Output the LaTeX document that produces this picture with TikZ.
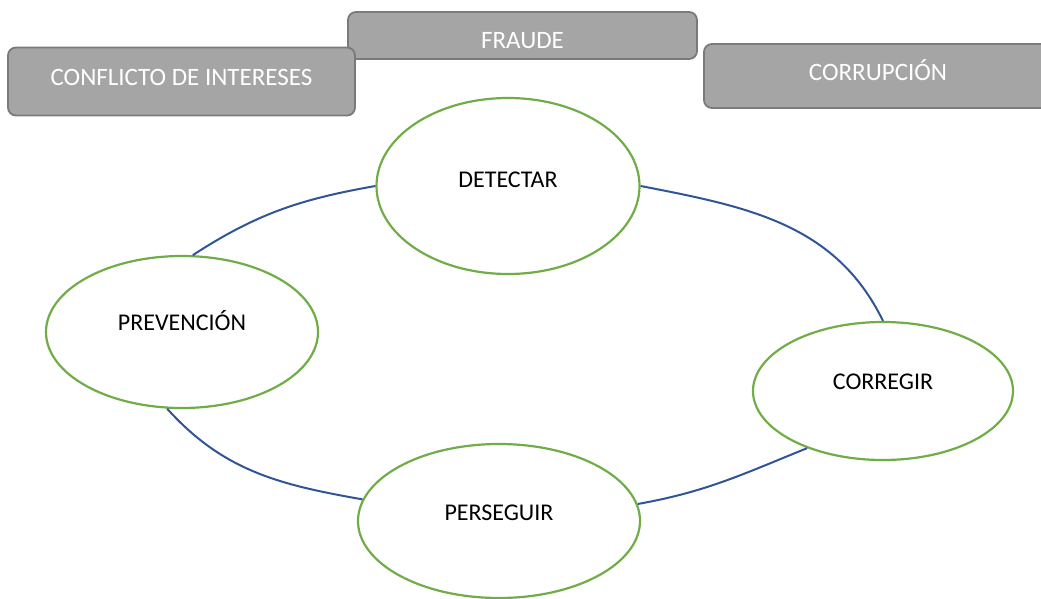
\documentclass[tikz,border=0pt]{standalone}
\usepackage{fontspec}
\setmainfont{Carlito}
\usetikzlibrary{shapes.geometric}

\definecolor{boxgray}{RGB}{165,165,165}
\definecolor{edgegray}{RGB}{122,122,122}
\definecolor{ringblue}{RGB}{47,85,151}
\definecolor{stagegreen}{RGB}{112,173,71}

\begin{document}
\begin{tikzpicture}[
    x=1pt, y=-1pt,
    topic/.style={draw=edgegray, fill=boxgray, line width=1.8pt, rounded corners=8pt, text=white,
        font=\fontsize{25}{30}\selectfont, text height=16pt, text depth=6pt, inner sep=0pt},
    stage/.style={ellipse, draw=stagegreen, fill=white, line width=2.2pt, inner sep=0pt,
        font=\fontsize{24}{29}\selectfont, text height=15.5pt, text depth=16pt},
    ring/.style={draw=ringblue, line width=2pt}
]

\useasboundingbox (0,0) rectangle (1041,599);

% Topic boxes (FRAUDE sits behind the left one)
\node[topic, minimum width=349pt, minimum height=47pt, text height=27pt, text depth=0pt] (fraude) at (522.5,35.5) {FRAUDE};
\node[topic, minimum width=347pt, minimum height=68pt, text depth=7pt] (conflicto) at (181.5,81.5) {CONFLICTO DE INTERESES};
\node[topic, minimum width=348pt, minimum height=64pt] (corrupcion) at (878,76) {CORRUPCIÓN};

% Cycle stages
\node[stage, minimum width=263pt, minimum height=176pt, text depth=12pt] (detectar) at (508,186) {DETECTAR};
\node[stage, minimum width=272pt, minimum height=152pt, text depth=18pt] (prevencion) at (182,332) {PREVENCIÓN};
\node[stage, minimum width=260pt, minimum height=138pt, text depth=18pt] (corregir) at (883,391) {CORREGIR};
\node[stage, minimum width=282pt, minimum height=154pt] (perseguir) at (499,521) {PERSEGUIR};

% Ring segments
\draw[ring] (prevencion.82) to[out=33, in=190] (detectar.180);
\draw[ring] (detectar.0) to[out=-11, in=116] (corregir.90);
\draw[ring] (corregir.217) to[out=202, in=10] (perseguir.7);
\draw[ring] (perseguir.171) to[out=170, in=312] (prevencion.259);

\end{tikzpicture}
\end{document}
